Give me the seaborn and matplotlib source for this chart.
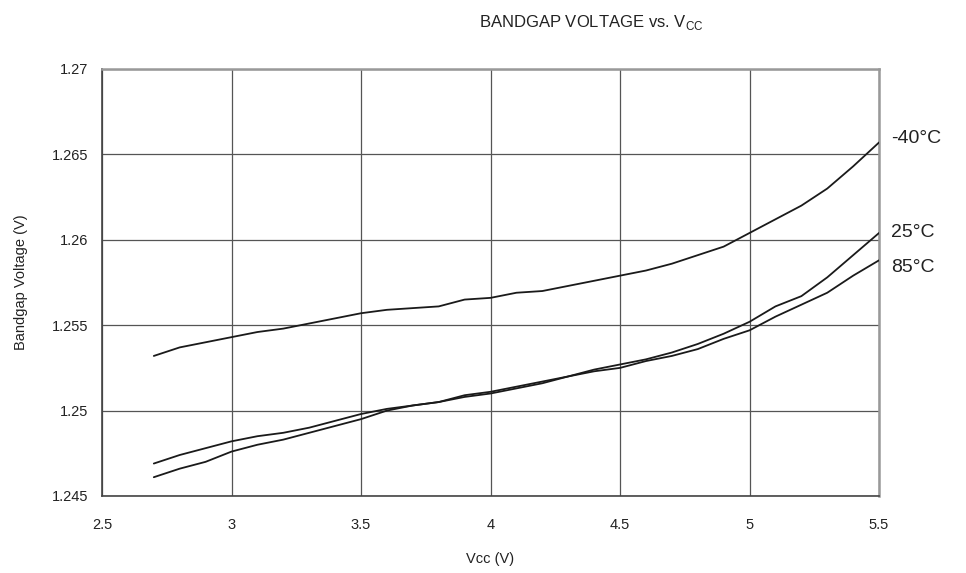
import matplotlib
matplotlib.use("Agg")
import matplotlib.pyplot as plt
import seaborn as sns
import pandas as pd

vcc = [2.7, 2.8, 2.9, 3.0, 3.1, 3.2, 3.3, 3.4, 3.5, 3.6, 3.7, 3.8, 3.9, 4.0,
       4.1, 4.2, 4.3, 4.4, 4.5, 4.6, 4.7, 4.8, 4.9, 5.0, 5.1, 5.2, 5.3, 5.4, 5.5]
vbg_m40 = [1.2532, 1.2537, 1.2540, 1.2543, 1.2546, 1.2548, 1.2551, 1.2554, 1.2557,
           1.2559, 1.2560, 1.2561, 1.2565, 1.2566, 1.2569, 1.2570, 1.2573, 1.2576,
           1.2579, 1.2582, 1.2586, 1.2591, 1.2596, 1.2604, 1.2612, 1.2620, 1.2630,
           1.2643, 1.2657]
vbg_25 = [1.2461, 1.2466, 1.2470, 1.2476, 1.2480, 1.2483, 1.2487, 1.2491, 1.2495,
          1.2500, 1.2503, 1.2505, 1.2509, 1.2511, 1.2514, 1.2517, 1.2520, 1.2524,
          1.2527, 1.2530, 1.2534, 1.2539, 1.2545, 1.2552, 1.2561, 1.2567, 1.2578,
          1.2591, 1.2604]
vbg_85 = [1.2469, 1.2474, 1.2478, 1.2482, 1.2485, 1.2487, 1.2490, 1.2494, 1.2498,
          1.2501, 1.2503, 1.2505, 1.2508, 1.2510, 1.2513, 1.2516, 1.2520, 1.2523,
          1.2525, 1.2529, 1.2532, 1.2536, 1.2542, 1.2547, 1.2555, 1.2562, 1.2569,
          1.2579, 1.2588]
temps = ["-40°C", "25°C", "85°C"]
x_ticks = [2.5, 3, 3.5, 4, 4.5, 5, 5.5]
x_labels = ["2.5", "3", "3.5", "4", "4.5", "5", "5.5"]
y_ticks = [1.245, 1.25, 1.255, 1.26, 1.265, 1.27]
y_labels = ["1.245", "1.25", "1.255", "1.26", "1.265", "1.27"]

df = pd.DataFrame({
    "vcc": vcc * 3,
    "vbg": vbg_m40 + vbg_25 + vbg_85,
    "temp": sum([[t] * len(vcc) for t in temps], []),
})

sns.set_style("white")
plt.rcParams["font.family"] = ["Liberation Sans", "DejaVu Sans"]

fig = plt.figure(figsize=(9.66, 5.73), dpi=100)
ax = fig.add_axes([0.1056, 0.1344, 0.8044, 0.7452])

sns.lineplot(data=df, x="vcc", y="vbg", hue="temp", palette=["#1a1a1a"] * 3,
             linewidth=1.3, legend=False, ax=ax, zorder=3)

ax.set_xlim(2.5, 5.5)
ax.set_ylim(1.245, 1.27)
ax.set_xticks(x_ticks)
ax.set_xticklabels(x_labels, fontsize=10.5, color="#222")
ax.set_yticks(y_ticks)
ax.set_yticklabels(y_labels, fontsize=10.5, color="#222")
ax.tick_params(axis="x", length=0, pad=16)
ax.tick_params(axis="y", length=0, pad=10)
ax.grid(True, color="#555", linewidth=0.9)
for side in ["left", "bottom"]:
    ax.spines[side].set_color("#444")
    ax.spines[side].set_linewidth(1.2)
for side in ["top", "right"]:
    ax.spines[side].set_color("#999")
    ax.spines[side].set_linewidth(1.8)

ax.set_xlabel("Vcc (V)", fontsize=10.5, color="#222", labelpad=14)
ax.set_ylabel("Bandgap Voltage (V)", fontsize=10.5, color="#222", labelpad=17)

# curve labels at the right edge
label_pos = [0.838, 0.616, 0.536]
for t, yp in zip(temps, label_pos):
    ax.text(1.016, yp, t, transform=ax.transAxes, fontsize=14, va="center", color="#222")

fig.text(0.612, 0.953, r"BANDGAP VOLTAGE vs. V$_{\mathregular{CC}}$", ha="center",
         va="baseline", fontsize=12, color="#222")

fig.savefig("out.png", dpi=100)
